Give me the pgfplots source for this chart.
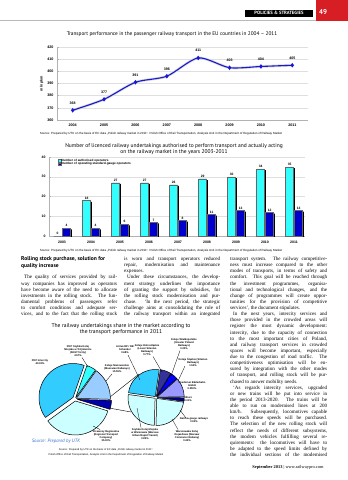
\documentclass[border=0pt]{standalone}
\usepackage{pgfplots}
\pgfplotsset{compat=1.18}
\usepackage{pgfplotstable}
\usepackage{fontspec}
\setmainfont{Liberation Serif}
\newfontfamily\arial{Liberation Sans}
\newfontfamily\myriad{PT Sans}
\newcommand\fs[2]{\fontsize{#1}{#2}\selectfont}
\definecolor{hdrred}{RGB}{214,30,36}
\definecolor{lineblue}{RGB}{25,25,210}
\definecolor{barcyan}{RGB}{51,255,255}
\definecolor{barblue}{RGB}{0,0,204}
\definecolor{pieA}{RGB}{51,204,255}
\definecolor{pieB}{RGB}{51,255,255}
\definecolor{pieC}{RGB}{153,204,255}
\definecolor{pieD}{RGB}{0,0,170}
\definecolor{pieE}{RGB}{204,255,255}
\definecolor{pieN}{RGB}{51,51,153}
\definecolor{pieL}{RGB}{153,153,255}
\definecolor{pieV}{RGB}{0,0,128}
\definecolor{pieU}{RGB}{0,0,255}
\definecolor{srcblue}{RGB}{51,110,204}
\newcommand\jl[1]{\makebox[96bp][s]{#1}}
\newcommand\jr[1]{\makebox[97bp][s]{#1}}
% pie wedge drawn by pgfplots inside the pie axis (1 unit = 1bp, y upwards):
% centre x, centre y, radius, start, end (deg), explode, colour
\newcommand\pgfwedge[7]{%
  \pgfmathsetmacro\slmid{0.5*(#4+#5)}%
  \pgfmathsetmacro\slx{#1+#6*cos(\slmid)}%
  \pgfmathsetmacro\sly{#2+#6*sin(\slmid)}%
  \edef\pwtmp{\noexpand\addplot[fill=#7, draw=black, line width=0.5bp, line join=round,
    domain=#4:#5, samples=40, variable=\noexpand\t, forget plot]
    ({\slx+#3*cos(\noexpand\t)}, {\sly+#3*sin(\noexpand\t)}) -- (axis cs:\slx,\sly) -- cycle;}%
  \pwtmp}

\pgfplotstableread{
x year perf
0 2004 368
1 2005 377
2 2006 391
3 2007 396
4 2008 411
5 2009 403
6 2010 404
7 2011 405
}\perftable

\pgfplotstableread{
x year auth oper
0 2003 0 4
1 2004 18 4
2 2005 27 6
3 2006 27 7
4 2007 26 8
5 2008 29 11
6 2009 30 13
7 2010 34 12
8 2011 35 13
}\opstable

\begin{document}
\begin{tikzpicture}
\path (0,0) rectangle (348bp,-480bp);
% ---------- header
\fill[gray!55] (0,-19.7bp) rectangle (316bp,-20.4bp);
\fill[hdrred] (316bp,0) rectangle (348bp,-20.5bp);
\node[text=white, font=\myriad\bfseries\fs{7}{8}] at (323bp,-12.5bp) {49};
\fill[black] (245bp,-9.5bp) rectangle (313bp,-17bp);
\node[text=white, font=\myriad\bfseries\fs{4.7}{5}] at (279bp,-13.3bp) {POLICIES \& STRATEGIES};

% ---------- chart 1
\node[font=\myriad\fs{5.3}{6.5}] at (172bp,-34bp) {Transport performance in the passenger railway transport in the EU countries in 2004 – 2011};
\begin{axis}[
  at={(57bp,-120bp)}, anchor=south west, scale only axis,
  width=251bp, height=73bp,
  xmin=-0.5, xmax=7.5, ymin=360, ymax=420,
  xtick={0,...,7}, xticklabels={2004,2005,2006,2007,2008,2009,2010,2011},
  ytick={360,370,...,420},
  axis x line*=bottom, axis y line*=left,
  axis line style={gray!60, line width=0.4bp},
  ymajorgrids, grid style={gray!25, line width=0.35bp},
  major tick length=1.5bp, tick style={gray!60, line width=0.35bp},
  xtick style={draw=none},
  tick label style={font=\arial\bfseries\fs{3.7}{4}},
  /pgf/number format/assume math mode=true,
  ylabel={mln pkm}, ylabel style={font=\arial\bfseries\fs{3.7}{4}},
  ylabel shift=-3bp,
]
\addplot[gray!30, line width=2.6bp, smooth, tension=0.45, forget plot] table[x=x,y=perf]{\perftable};
\addplot[lineblue, line width=1.1bp, smooth, tension=0.45, mark=diamond*, mark size=1.4bp,
  nodes near coords, node near coord style={font=\arial\bfseries\fs{3.6}{4}, text=black, anchor=south, yshift=2.2bp}]
  table[x=x,y=perf]{\perftable};
\end{axis}
\node[font=\arial\fs{3}{3.5}] at (161bp,-134bp) {Source: Prepared by UTK on the basis of EC data „Polish railway market in 2011”. Polish Office of Rail Transportation, Analysis Unit in the Department of Regulation of Railway Market};

% ---------- chart 2
\node[font=\myriad\fs{5.5}{6.4}, align=center] at (174bp,-149bp) {Number of licenced railway undertakings authorised to perform transport and actually acting\\on the railway market in the years 2003-2011};
\begin{axis}[
  at={(49bp,-236bp)}, anchor=south west, scale only axis,
  width=256bp, height=79bp,
  xmin=-0.45, xmax=8.38, ymin=0, ymax=40,
  xtick={0,...,8}, xticklabels={2003,2004,2005,2006,2007,2008,2009,2010,2011},
  ytick={0,10,...,40},
  axis x line*=bottom, axis y line*=left,
  axis line style={gray!60, line width=0.4bp},
  ymajorgrids, grid style={gray!25, line width=0.35bp},
  major tick length=1.5bp, tick style={gray!60, line width=0.35bp},
  xtick style={draw=none},
  tick label style={font=\arial\bfseries\fs{3.5}{4}},
  /pgf/number format/assume math mode=true,
  ybar, bar width=8bp,
  legend style={at={(0.035,0.985)}, anchor=north west, draw=none, fill=none,
    font=\arial\bfseries\fs{3.1}{3.6}, row sep=-1.2bp, inner sep=0pt, nodes={inner sep=0.5bp}},
  legend cell align=left,
]
\addplot[fill=black, draw=none, bar shift=-3.1bp, yshift=-1.3bp, forget plot] table[x=x,y=auth]{\opstable};
\addplot[fill=black, draw=none, bar shift=5.9bp, yshift=-1.3bp, forget plot] table[x=x,y=oper]{\opstable};
\addplot[fill=barcyan, draw=black!60, line width=0.3bp, bar shift=-4.4bp,
  legend image code/.code={\draw[fill=barcyan, draw=black!60, line width=0.2bp] (0bp,-1.2bp) rectangle (2.6bp,1.2bp);},
  nodes near coords, node near coord style={font=\arial\bfseries\fs{3.3}{4}, text=black, anchor=south, inner sep=1bp}]
  table[x=x,y=auth]{\opstable};
\addlegendentry{Number of authorised operators}
\addplot[fill=barblue, draw=black!60, line width=0.3bp, bar shift=4.6bp,
  legend image code/.code={\draw[fill=barblue, draw=black!60, line width=0.2bp] (0bp,-1.2bp) rectangle (2.6bp,1.2bp);},
  nodes near coords, node near coord style={font=\arial\bfseries\fs{3.3}{4}, text=black, anchor=south, inner sep=1bp}]
  table[x=x,y=oper]{\opstable};
\addlegendentry{Number of operating standard-gauge operators}
\end{axis}
\node[font=\arial\fs{3}{3.5}] at (161bp,-250.5bp) {Source: Prepared by UTK on the basis of EC data „Polish railway market in 2011”. Polish Office of Rail Transportation, Analysis Unit in the Department of Regulation of Railway Market};

% ---------- text columns
\node[anchor=north west, inner sep=0pt, align=left, font=\myriad\bfseries\fs{5.6}{6.5}] at (21bp,-256.5bp)
 {Rolling stock purchase, solution for\\quality increase};
\node[anchor=north west, inner sep=0pt, align=left, font=\fs{5.1}{6.15}] at (21bp,-275.2bp) {%
\jl{\hspace*{3bp}The quality of services provided by rail-}\\
\jl{way companies has improved as operators}\\
\jl{have become aware of the need to allocate}\\
\jl{investments in the rolling stock. The fun-}\\
\jl{damental problems of passengers refer}\\
\jl{to comfort conditions and adequate ser-}\\
\jl{vices, and to the fact that the rolling stock}};
\node[anchor=north west, inner sep=0pt, align=left, font=\fs{5.1}{6.15}] at (124bp,-256.8bp) {%
\jl{is worn and transport operators reduced}\\
\jl{repair, modernisation and maintenance}\\
expenses.\\
\jl{\hspace*{3bp}Under these circumstances, the develop-}\\
\jl{ment strategy underlines the importance}\\
\jl{of granting the support by subsidies, for}\\
\jl{the rolling stock modernisation and pur-}\\
\jl{chase. ‘In the next period, the strategic}\\
\jl{challenge aims at consolidating the role of}\\
\jl{the railway transport within an integrated}};
\node[anchor=north west, inner sep=0pt, align=left, font=\fs{5.1}{6.15}] at (230bp,-256.8bp) {%
\jr{transport system. The railway competitive-}\\
\jr{ness must increase compared to the other}\\
\jr{modes of transports, in terms of safety and}\\
\jr{comfort. This goal will be reached through}\\
\jr{the investment programmes, organisa-}\\
\jr{tional and technological changes, and the}\\
\jr{change of programmes will create oppor-}\\
\jr{tunities for the provision of competitive}\\
services’, the document stipulates.\\
\jr{\hspace*{3bp}In the next years, intercity services and}\\
\jr{those provided in the crowded areas will}\\
\jr{register the most dynamic development:}\\
\jr{intercity, due to the capacity of connection}\\
\jr{to the most important cities of Poland,}\\
\jr{and railway transport services in crowded}\\
\jr{spaces will become important, especially}\\
\jr{due to the congestion of road traffic. The}\\
\jr{competitiveness optimisation will be en-}\\
\jr{sured by integration with the other modes}\\
\jr{of transport, and rolling stock will be pur-}\\
chased to answer mobility needs.\\
\jr{\hspace*{3bp}‘As regards intercity services, upgraded}\\
\jr{or new trains will be put into service in}\\
\jr{the period 2013-2020. The trains will be}\\
\jr{able to run on modernised lines at 200}\\
\jr{km/h. Subsequently, locomotives capable}\\
\jr{to reach these speeds will be purchased.}\\
\jr{The selection of the new rolling stock will}\\
\jr{reflect the needs of different subsystems,}\\
\jr{the modern vehicles fulfilling several re-}\\
\jr{quirements: the locomotives will have to}\\
\jr{be adapted to the speed limits defined by}\\
\jr{the individual sections of the modernised}};
\node[anchor=east, font=\fs{4.4}{5}] at (327bp,-467bp) {\textbf{September 2013} | www.railwaypro.com};

% ---------- pie chart (shares in %, 1% = 3.6 deg), drawn in a hidden axis: 1 unit = 1bp
\node[font=\myriad\fs{5.6}{6.2}, align=center] at (121bp,-329bp) {The railway undertakings share in the market according to\\the transport performance in 2011};
\begin{axis}[
  at={(20bp,-450bp)}, anchor=south west, scale only axis,
  width=200bp, height=110bp,
  xmin=20, xmax=220, ymin=-450, ymax=-340,
  hide axis, clip=false,
]
\addplot[black, line width=0.4bp, forget plot] coordinates {(110,-397) (139,-374)};
\addplot[black, line width=0.4bp, forget plot] coordinates {(109,-408) (131,-412)};
% main pie: 4.26 others, 15.55 KM, 4.57 SKM, 40.32 PKP IC, 35.30 PR ; start at 343 deg
\pgfwedge{75}{-399}{34}{343}{358.34}{2.5}{pieD}
\pgfwedge{75}{-399}{34}{358.34}{414.32}{1.5}{pieC}
\pgfwedge{75}{-399}{34}{54.32}{70.77}{1.5}{pieB}
\pgfwedge{75}{-399}{34}{70.77}{215.92}{2.5}{pieA}
\pgfwedge{75}{-399}{34}{215.92}{343}{2}{pieE}
% secondary pie: 0.09, 0.50, 0.19, 0.28, 1.07, 1.14, 0.99 (sum 4.26) ; start at 352 deg
\pgfwedge{156}{-397.5}{27}{352}{359.61}{1.2}{pieV}
\pgfwedge{156}{-397.5}{27}{0.39}{41.87}{1.2}{pieL}
\pgfwedge{156}{-397.5}{27}{41.87}{57.92}{1.2}{pieU}
\pgfwedge{156}{-397.5}{27}{57.92}{81.58}{1.2}{pieN}
\pgfwedge{156}{-397.5}{27}{81.58}{172.0}{1.2}{pieA}
\pgfwedge{156}{-397.5}{27}{172.0}{268.34}{1.2}{pieE}
\pgfwedge{156}{-397.5}{27}{268.34}{352}{1.2}{pieE}
% leader lines
\addplot[black, line width=0.3bp, forget plot] coordinates {(82,-357.5) (88,-367)};
\addplot[black, line width=0.3bp, forget plot] coordinates {(112,-374) (106,-381)};
\addplot[black, line width=0.3bp, forget plot] coordinates {(100,-429.5) (93,-426)};
\addplot[black, line width=0.3bp, forget plot] coordinates {(128,-355) (140,-380)};
\addplot[black, line width=0.3bp, forget plot] coordinates {(153,-356.5) (162,-372)};
\addplot[black, line width=0.3bp, forget plot] coordinates {(180,-350.5) (171,-376)};
\addplot[black, line width=0.3bp, forget plot] coordinates {(185,-366) (178,-381)};
\addplot[black, line width=0.3bp, forget plot] coordinates {(180,-410) (186,-418)};
\addplot[black, line width=0.3bp, forget plot] coordinates {(178,-429.5) (172,-419)};
\addplot[black, line width=0.3bp, forget plot] coordinates {(141,-427.5) (137,-408)};
\end{axis}
\begin{scope}[every node/.style={font=\arial\bfseries\fs{2.6}{3}, align=center, inner sep=0.5bp}]
\node at (40bp,-362bp) {PKP Intercity\\40.32\%};
\node at (78bp,-351bp) {PKP Szybka Kolej\\Miejska w Trójmieście\\(SKM Tricity)\\4.57\%};
\node at (117bp,-369bp) {Koleje Mazowieckie\\(Masovian Railways)\\15.55\%};
\node at (106bp,-436bp) {Przewozy Regionalne\\(Regional Transport\\Company)\\35.30\%};
\node at (125bp,-350bp) {Arriva RP / DB\\Schenker\\0.68\%};
\node at (147bp,-350bp) {Koleje Dolnośląskie\\(Lower Silesian\\Railways)\\0.77\%};
\node at (184bp,-344bp) {Koleje Wielkopolskie\\(Greater Poland\\Railways)\\0.30\%};
\node at (193bp,-362bp) {Koleje Śląskie (Silesian\\Railways)\\1.53\%};
\node at (192bp,-386bp) {Usedomer Bäderbahn\\GmbH\\0.050\%};
\node at (188bp,-399bp) {Others\\0.31\%};
\node at (194bp,-420bp) {Narrow gauge railways\\0.03\%};
\node at (187bp,-436bp) {Warszawska Kolej\\Dojazdowa (Warsaw\\Commuter Railway)\\0.43\%};
\node at (145bp,-434bp) {Szybka Kolej Miejska\\w Warszawie (Warsaw\\Urban Rapid Transit)\\0.83\%};
\end{scope}
\node[font=\myriad\itshape\fs{4.8}{5.5}, text=srcblue] at (56bp,-441bp) {Source: Prepared by UTK};
\node[font=\arial\fs{2.6}{5}, align=center] at (106bp,-452.5bp) {Source: Prepared by UTK on the basis of EC data „Polish railway market in 2011”.\\Polish Office of Rail Transportation, Analysis Unit in the Department of Regulation of Railway Market};
\end{tikzpicture}
\end{document}
